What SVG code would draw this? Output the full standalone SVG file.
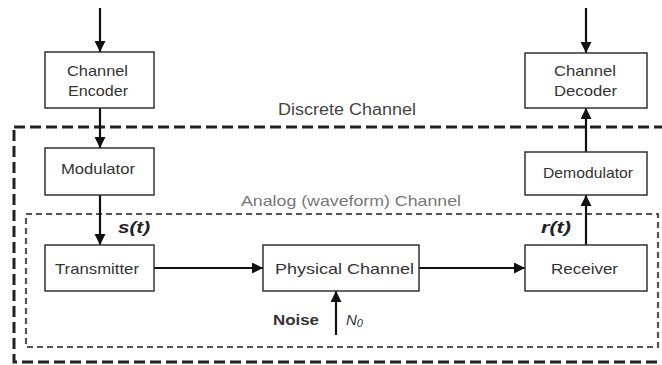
<svg xmlns="http://www.w3.org/2000/svg" width="662" height="365" viewBox="0 0 662 365">
<defs>
<marker id="ah" viewBox="0 0 10 10" refX="10" refY="5" markerWidth="5" markerHeight="5" orient="auto" markerUnits="strokeWidth">
<path d="M0,0 L10,5 L0,10 z" fill="#111"/>
</marker>
<style>
.box{fill:#fff;stroke:#333;stroke-width:1.5}
.lbl{font-family:"Liberation Sans",Arial,sans-serif;font-size:15px;fill:#333;text-anchor:middle}
.conn{stroke:#111;stroke-width:2.2;fill:none;marker-end:url(#ah)}
.disc{fill:none;stroke:#222;stroke-width:3;stroke-dasharray:11 5}
.anal{fill:none;stroke:#555;stroke-width:2.2;stroke-dasharray:6 4}
.ttl{font-family:"Liberation Sans",Arial,sans-serif;fill:#444;text-anchor:middle}
</style>
</defs>
<rect width="662" height="365" fill="#fff"/>
<rect class="disc" x="14" y="127" width="660" height="235"/>
<rect class="anal" x="26" y="214" width="632" height="133"/>
<text class="ttl" x="347" y="115" font-size="16" textLength="138" lengthAdjust="spacingAndGlyphs">Discrete Channel</text>
<text class="ttl" x="351" y="206" font-size="15" style="fill:#777" textLength="220" lengthAdjust="spacingAndGlyphs">Analog (waveform) Channel</text>
<g id="connectors">
<line class="conn" x1="100" y1="8" x2="100" y2="52"/>
<line class="conn" x1="100" y1="108" x2="100" y2="148"/>
<line class="conn" x1="100" y1="195" x2="100" y2="245"/>
<line class="conn" x1="154" y1="268" x2="263" y2="268"/>
<line class="conn" x1="419" y1="268" x2="525" y2="268"/>
<line class="conn" x1="586" y1="245" x2="586" y2="195"/>
<line class="conn" x1="586" y1="152" x2="586" y2="108"/>
<line class="conn" x1="586" y1="8" x2="586" y2="53"/>
<line class="conn" x1="336" y1="335" x2="336" y2="291"/>
<text x="118" y="233" font-family="'Liberation Sans',Arial,sans-serif" font-size="16" font-weight="bold" font-style="italic" fill="#222" textLength="32" lengthAdjust="spacingAndGlyphs">s(t)</text>
<text x="541" y="233" font-family="'Liberation Sans',Arial,sans-serif" font-size="16" font-weight="bold" font-style="italic" fill="#222" textLength="30" lengthAdjust="spacingAndGlyphs">r(t)</text>
<text x="273" y="325" font-family="'Liberation Sans',Arial,sans-serif" font-size="15" font-weight="bold" fill="#333" textLength="46" lengthAdjust="spacingAndGlyphs">Noise</text>
<text x="346" y="325" font-family="'Liberation Sans',Arial,sans-serif" font-size="15" font-style="italic" fill="#333">N<tspan font-size="11" dy="2">0</tspan></text>
</g>
<g id="encoder"><rect class="box" x="45" y="52" width="109" height="56"/><text class="lbl" x="97.5" y="76" textLength="61" lengthAdjust="spacingAndGlyphs">Channel</text><text class="lbl" x="98" y="96" textLength="60" lengthAdjust="spacingAndGlyphs">Encoder</text></g>
<g id="modulator"><rect class="box" x="45" y="148" width="109" height="47"/><text class="lbl" x="98" y="174" textLength="74" lengthAdjust="spacingAndGlyphs">Modulator</text></g>
<g id="transmitter"><rect class="box" x="45" y="245" width="109" height="46"/><text class="lbl" x="97" y="274" textLength="84" lengthAdjust="spacingAndGlyphs">Transmitter</text></g>
<g id="physical"><rect class="box" x="263" y="245" width="156" height="46"/><text class="lbl" x="344.5" y="274" textLength="139" lengthAdjust="spacingAndGlyphs">Physical Channel</text></g>
<g id="receiver"><rect class="box" x="525" y="245" width="122" height="46"/><text class="lbl" x="584.5" y="274" textLength="67" lengthAdjust="spacingAndGlyphs">Receiver</text></g>
<g id="demodulator"><rect class="box" x="525" y="152" width="122" height="43"/><text class="lbl" x="588" y="178" textLength="90" lengthAdjust="spacingAndGlyphs">Demodulator</text></g>
<g id="decoder"><rect class="box" x="525" y="53" width="122" height="55"/><text class="lbl" x="585" y="76" textLength="62" lengthAdjust="spacingAndGlyphs">Channel</text><text class="lbl" x="585.5" y="96" textLength="63" lengthAdjust="spacingAndGlyphs">Decoder</text></g>
</svg>
